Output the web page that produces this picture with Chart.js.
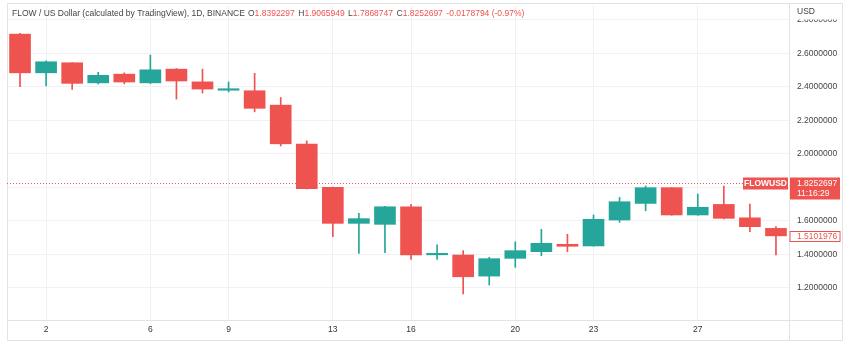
<!DOCTYPE html>
<html>
<head>
<meta charset="utf-8">
<script src="https://cdn.jsdelivr.net/npm/chart.js@4/dist/chart.umd.min.js"></script>
<style>
  html,body{margin:0;padding:0;background:#fff;}
  #wrap{position:relative;width:850px;height:345px;}
</style>
</head>
<body>
<div id="wrap"><canvas id="c" width="850" height="345"></canvas></div>
<script>
// ---- data ----
const days = ['1','2','3','4','5','6','7','8','9','10','11','12','13','14','15','16','17','18','19','20','21','22','23','24','25','26','27','28','29','30'];
const shownDays = ['2','6','9','13','16','20','23','27'];
const opens  = [2.715,2.484,2.544,2.424,2.476,2.424,2.506,2.430,2.380,2.377,2.291,2.058,1.800,1.585,1.579,1.684,1.397,1.396,1.270,1.376,1.416,1.460,1.450,1.605,1.704,1.798,1.635,1.698,1.618,1.555];
const highs  = [2.720,2.555,2.545,2.487,2.484,2.590,2.510,2.506,2.430,2.481,2.337,2.078,1.802,1.645,1.686,1.698,1.457,1.422,1.382,1.475,1.549,1.520,1.635,1.740,1.808,1.800,1.760,1.808,1.700,1.565];
const lows   = [2.401,2.405,2.385,2.417,2.418,2.420,2.327,2.363,2.370,2.251,2.047,1.790,1.505,1.406,1.410,1.370,1.370,1.163,1.217,1.322,1.392,1.416,1.449,1.591,1.660,1.633,1.633,1.612,1.535,1.396];
const closes = [2.484,2.550,2.421,2.469,2.429,2.502,2.435,2.387,2.385,2.272,2.060,1.792,1.585,1.613,1.684,1.396,1.400,1.266,1.374,1.422,1.466,1.448,1.609,1.714,1.798,1.635,1.681,1.615,1.565,1.5101976];
const yTicks = [1.2,1.4,1.6,1.8,2.0,2.2,2.4,2.6,2.8];
const headerTitle = 'FLOW / US Dollar (calculated by TradingView), 1D, BINANCE';
const headerOHLC = [['O','1.8392297'],['H','1.9065949'],['L','1.7868747'],['C','1.8252697']];
const headerChange = '-0.0178794 (-0.97%)';
const currentPrice = 1.8252697;
const currentTime = '11:16:29';
const symbol = 'FLOWUSD';
const lastClose = 1.5101976;

const UP = '#26a69a', DOWN = '#ef5350';
const colorOf = i => closes[i] >= opens[i] ? UP : DOWN;
const FONT = "'Liberation Sans', Arial, sans-serif";

const overlay = {
  id: 'overlay',
  afterDraw(chart) {
    const ctx = chart.ctx, a = chart.chartArea, y = chart.scales.y;
    ctx.save();
    // frame lines
    ctx.strokeStyle = '#e3e3e3'; ctx.lineWidth = 1;
    ctx.beginPath();
    ctx.rect(7.5, 3.5, 835, 337);
    ctx.moveTo(a.right + 0.5, 3.5); ctx.lineTo(a.right + 0.5, 340.5);
    ctx.moveTo(7.5, a.bottom + 0.5); ctx.lineTo(842.5, a.bottom + 0.5);
    ctx.stroke();
    // cover top of axis, draw USD
    ctx.fillStyle = '#fff';
    ctx.fillRect(a.right + 1, 4, 842 - a.right - 1, 15.5);
    ctx.fillStyle = '#444';
    ctx.font = '8.5px ' + FONT;
    ctx.textBaseline = 'middle'; ctx.textAlign = 'left';
    ctx.fillText('USD', 797, 12);

    // header
    ctx.font = '8.5px ' + FONT;
    let x = 12;
    ctx.fillStyle = '#444';
    ctx.fillText(headerTitle, x, 14);
    x = 248;
    headerOHLC.forEach(([k, v]) => {
      ctx.fillStyle = '#444'; ctx.fillText(k, x, 14); x += ctx.measureText(k).width;
      ctx.fillStyle = DOWN; ctx.fillText(v, x, 14); x += ctx.measureText(v).width + 3.5;
    });
    ctx.fillStyle = DOWN; ctx.fillText(headerChange, x, 14);

    // current price dotted line
    const py = Math.round(y.getPixelForValue(currentPrice)) + 0.5;
    ctx.strokeStyle = DOWN; ctx.setLineDash([1, 2]);
    ctx.beginPath(); ctx.moveTo(a.left, py); ctx.lineTo(743, py); ctx.stroke();
    ctx.setLineDash([]);
    // symbol tag
    ctx.fillStyle = DOWN;
    ctx.fillRect(743, py - 6, 45, 12);
    ctx.fillStyle = '#fff';
    ctx.font = 'bold 8.5px ' + FONT; ctx.textAlign = 'center';
    ctx.fillText(symbol, 765.5, py + 0.5);
    // price tag
    ctx.fillStyle = DOWN;
    ctx.fillRect(a.right + 1, py - 6, 50, 22);
    ctx.fillStyle = '#fff'; ctx.font = '8.5px ' + FONT; ctx.textAlign = 'left';
    ctx.fillText(currentPrice.toFixed(7), 797, py + 0.5);
    ctx.fillText(currentTime, 797, py + 10);
    // last close tag
    const cy = Math.round(y.getPixelForValue(lastClose)) + 0.5;
    ctx.fillStyle = '#fff';
    ctx.fillRect(a.right + 1, cy - 5, 50, 10);
    ctx.strokeStyle = DOWN; ctx.strokeRect(a.right + 1, cy - 5, 50, 10);
    ctx.fillStyle = DOWN;
    ctx.fillText(lastClose.toFixed(7), 797, cy + 0.5);
    ctx.restore();
  }
};

new Chart(document.getElementById('c'), {
  type: 'bar',
  data: {
    labels: days,
    datasets: [
      {
        label: 'body',
        data: days.map((d, i) => [opens[i], closes[i]]),
        backgroundColor: days.map((d, i) => colorOf(i)),
        barThickness: 21,
        minBarLength: 1.5,
        borderWidth: 0,
        borderSkipped: false,
        grouped: false
      },
      {
        label: 'wick',
        data: days.map((d, i) => [lows[i], highs[i]]),
        backgroundColor: days.map((d, i) => colorOf(i)),
        barThickness: 1,
        borderWidth: 0,
        borderSkipped: false,
        grouped: false
      }
    ]
  },
  options: {
    responsive: false,
    animation: false,
    layout: { padding: { left: 7, top: 3, right: 8, bottom: 5 } },
    plugins: { legend: { display: false }, tooltip: { enabled: false } },
    scales: {
      x: {
        offset: true,
        grid: {
          offset: false,
          drawTicks: false,
          color: ctx => shownDays.includes(days[ctx.index]) ? '#f0f1f4' : 'rgba(0,0,0,0)'
        },
        border: { display: false },
        ticks: {
          autoSkip: false, maxRotation: 0, padding: 5,
          color: '#333', font: { size: 8.5, family: FONT },
          callback: (v, i) => shownDays.includes(days[i]) ? days[i] : ''
        },
        afterFit: s => { s.height = 20; }
      },
      y: {
        position: 'right',
        min: 1.0078, max: 2.8884,
        afterBuildTicks: s => { s.ticks = yTicks.map(v => ({ value: v })); },
        grid: { drawTicks: true, tickLength: 8, tickColor: 'rgba(0,0,0,0)', color: '#f0f1f4' },
        border: { display: false },
        ticks: {
          padding: 0, color: '#444', font: { size: 8.5, family: FONT },
          callback: v => Number(v).toFixed(7)
        },
        afterFit: s => { s.width = 53; }
      }
    }
  },
  plugins: [overlay]
});
</script>
</body>
</html>
